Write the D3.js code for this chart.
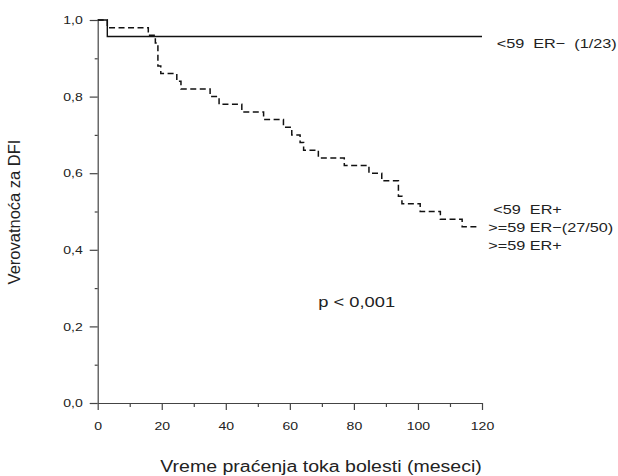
<!DOCTYPE html>
<html>
<head>
<meta charset="utf-8">
<script src="https://cdn.jsdelivr.net/npm/d3@7"></script>
<style>
  body { margin: 0; background: #fff; }
  svg { display: block; }
  text { font-family: "Liberation Sans", Arial, sans-serif; fill: #222; white-space: pre; }
</style>
</head>
<body>
<div id="chart"></div>
<script>
// group <59 ER- (solid)
var solidTimes = [0, 3, 120];
var solidSurv  = [1.0, 0.957, 0.957];

// other groups (dashed)
var dashedTimes = [0, 3, 15.8, 18, 18.8, 19.7, 24.7, 26, 35.1, 37.9, 45, 51.8, 58, 60.6, 63.2, 64.3, 68.9, 77, 84.7, 88.7, 93.9, 95, 100.7, 107, 113.8, 119];
var dashedSurv  = [1.0, 0.98, 0.96, 0.94, 0.88, 0.86, 0.84, 0.82, 0.80, 0.78, 0.76, 0.74, 0.72, 0.70, 0.68, 0.66, 0.64, 0.62, 0.60, 0.58, 0.54, 0.52, 0.50, 0.48, 0.46, 0.46];

var xTicks = [0, 20, 40, 60, 80, 100, 120];
var xMinorTicks = [10, 30, 50, 70, 90, 110];
var yTicks = [0, 0.2, 0.4, 0.6, 0.8, 1.0];
var yTickLabels = ["0,0", "0,2", "0,4", "0,6", "0,8", "1,0"];
var yMinorTicks = [0.1, 0.3, 0.5, 0.7, 0.9];

var groupLabels = ["<59  ER+", ">=59 ER\u2212(27/50)", ">=59 ER+"];
var topLabel = "<59  ER\u2212  (1/23)";

var fullwidth = 618, fullheight = 476;
var SX = 1.22;   // the scan is stretched sideways

var svg = d3.select("#chart").append("svg")
    .attr("width", fullwidth)
    .attr("height", fullheight);

var xScale = d3.scaleLinear().domain([0, 120]).range([97.7, 482]);
var yScale = d3.scaleLinear().domain([0, 1]).range([403, 20]);

function stretch(sel) {
    sel.each(function() {
        var w = this.getComputedTextLength();
        this.setAttribute("textLength", w * SX);
        this.setAttribute("lengthAdjust", "spacingAndGlyphs");
    });
}

// y axis
var yAxis = d3.axisLeft(yScale)
    .tickValues(yTicks)
    .tickFormat(function(d, i) { return yTickLabels[i]; })
    .tickSize(8)
    .tickSizeOuter(0)
    .tickPadding(7);
var gy = svg.append("g")
    .attr("transform", "translate(" + xScale(0) + ",0)")
    .call(yAxis);
gy.selectAll("text").style("font-size", "11.5px").call(stretch);

svg.append("g")
    .attr("transform", "translate(" + xScale(0) + ",0)")
    .call(d3.axisLeft(yScale).tickValues(yMinorTicks).tickSize(3).tickSizeOuter(0).tickFormat(""))
    .select(".domain").remove();

// x axis
var xAxis = d3.axisBottom(xScale)
    .tickValues(xTicks)
    .tickSize(7)
    .tickSizeOuter(0)
    .tickPadding(12);
var gx = svg.append("g")
    .attr("transform", "translate(0," + yScale(0) + ")")
    .call(xAxis);
gx.selectAll("text").style("font-size", "11.5px").call(stretch);

svg.append("g")
    .attr("transform", "translate(0," + yScale(0) + ")")
    .call(d3.axisBottom(xScale).tickValues(xMinorTicks).tickSize(4).tickSizeOuter(0).tickFormat(""))
    .select(".domain").remove();

svg.selectAll(".domain, .tick line")
    .attr("stroke", "#444")
    .attr("stroke-width", 1.2);

// survival curves
var line = d3.line()
    .x(function(d) { return xScale(d[0]); })
    .y(function(d) { return yScale(d[1]); })
    .curve(d3.curveStepAfter);

svg.append("path")
    .datum(d3.zip(dashedTimes, dashedSurv))
    .attr("d", line)
    .attr("fill", "none")
    .attr("stroke", "#111")
    .attr("stroke-width", 1.5)
    .attr("stroke-dasharray", "6,3.5");

svg.append("path")
    .datum(d3.zip(solidTimes, solidSurv))
    .attr("d", line)
    .attr("fill", "none")
    .attr("stroke", "#111")
    .attr("stroke-width", 1.4);

// labels
svg.append("text")
    .attr("x", 496.7).attr("y", 48)
    .style("font-size", "13.3px")
    .text(topLabel)
    .call(stretch);

var labelX = [493.3, 488.3, 488.3];
var labelY = [214, 232, 250];
groupLabels.forEach(function(t, i) {
    svg.append("text")
        .attr("x", labelX[i]).attr("y", labelY[i])
        .style("font-size", "13.3px")
        .text(t)
        .call(stretch);
});

svg.append("text")
    .attr("x", 318.3).attr("y", 307)
    .style("font-size", "15px")
    .text("p < 0,001")
    .call(stretch);

svg.append("text")
    .attr("x", 321).attr("y", 472)
    .attr("text-anchor", "middle")
    .style("font-size", "16px")
    .text("Vreme pra\u0107enja toka bolesti (meseci)")
    .call(stretch);

svg.append("text")
    .attr("transform", "translate(20,212) rotate(-90)")
    .attr("text-anchor", "middle")
    .style("font-size", "16.5px")
    .text("Verovatno\u0107a za DFI");
</script>
</body>
</html>
